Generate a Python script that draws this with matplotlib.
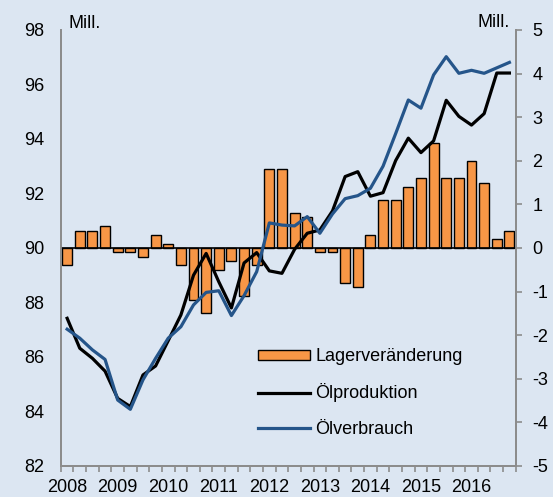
import numpy as np
import matplotlib
matplotlib.use("Agg")
import matplotlib.pyplot as plt

plt.rcParams['font.family'] = ['Liberation Sans', 'DejaVu Sans']
plt.rcParams['axes.unicode_minus'] = False

years = ['2008', '2009', '2010', '2011', '2012', '2013', '2014', '2015', '2016']

# quarterly stock change (right axis), 2008Q1 - 2016Q4
lager = [-0.4, 0.4, 0.4, 0.5, -0.1, -0.1, -0.2, 0.3,
         0.1, -0.4, -1.2, -1.5, -0.5, -0.3, -1.1, -0.4,
         1.8, 1.8, 0.8, 0.7, -0.1, -0.1, -0.8, -0.9,
         0.3, 1.1, 1.1, 1.4, 1.6, 2.4, 1.6, 1.6,
         2.0, 1.5, 0.2, 0.4]

# oil production (left axis)
produktion = [87.42, 86.32, 85.95, 85.48, 84.48, 84.18, 85.34, 85.67,
              86.60, 87.54, 89.00, 89.80, 88.76, 87.80, 89.45, 89.83,
              89.16, 89.07, 89.95, 90.54, 90.66, 91.36, 92.62, 92.80,
              91.90, 92.03, 93.21, 94.03, 93.50, 93.93, 95.42, 94.83,
              94.51, 94.93, 96.42, 96.42]

# oil consumption (left axis)
verbrauch = [87.02, 86.69, 86.26, 85.91, 84.42, 84.08, 85.16, 85.95,
             86.69, 87.11, 87.91, 88.37, 88.43, 87.52, 88.25, 89.13,
             90.92, 90.84, 90.81, 91.15, 90.54, 91.25, 91.81, 91.92,
             92.19, 93.00, 94.20, 95.43, 95.13, 96.35, 97.02, 96.41,
             96.52, 96.41, 96.61, 96.81]

bg = '#dce6f2'
grey = '#8c8c8c'
x = np.arange(len(lager))

fig = plt.figure(figsize=(5.53, 4.97), dpi=100, facecolor=bg)
ax2 = fig.add_axes([0.110, 0.0624, 0.8226, 0.8773])
ax = ax2.twinx()
# swap so the lines sit on top of the bars, left axis = lines
ax.yaxis.tick_left()
ax2.yaxis.tick_right()
ax.set_zorder(ax2.get_zorder() + 1)
ax.patch.set_visible(False)
ax2.patch.set_visible(False)

ax2.bar(x, lager, width=0.78, color='#f79646', edgecolor='black', lw=1.0,
        label='Lagerveränderung', zorder=2)
ax2.axhline(0, color='black', lw=1.2, zorder=3)
ax2.set_ylim(-5, 5)
ax2.set_yticks(range(-5, 6))

ax.plot(x, produktion, color='black', lw=2.3, label='Ölproduktion')
ax.plot(x, verbrauch, color='#25558a', lw=2.3, label='Ölverbrauch')
ax.set_ylim(82, 98)
ax.set_yticks(range(82, 99, 2))

ax.set_xlim(-0.5, 35.5)
ax2.set_xlim(-0.5, 35.5)
ax2.set_xticks(np.arange(0, 36, 4))
ax2.set_xticklabels(years)
ax2.set_xticks(np.arange(-0.5, 36, 1), minor=True)
ax2.tick_params(axis='x', which='major', length=0, pad=9.5, labelsize=13)
ax2.tick_params(axis='x', which='minor', length=4, color=grey, width=1.2, direction='out')

ax.tick_params(axis='y', length=0, pad=12, labelsize=13)
ax2.tick_params(axis='y', length=4, color=grey, width=1.2, pad=8, labelsize=13)

for a in (ax, ax2):
    a.spines['top'].set_visible(False)
    for s in ('left', 'right', 'bottom'):
        a.spines[s].set_color(grey)
        a.spines[s].set_linewidth(1.3)

fig.text(0.123, 0.952, 'Mill.', fontsize=13, ha='left', va='center')
fig.text(0.922, 0.955, 'Mill.', fontsize=13, ha='right', va='center')

h1, l1 = ax2.get_legend_handles_labels()
h2, l2 = ax.get_legend_handles_labels()
ax.legend(h1 + h2, l1 + l2, loc='upper left', bbox_to_anchor=(0.466, 0.299),
          bbox_transform=fig.transFigure, frameon=False, fontsize=13,
          handlelength=2.9, handletextpad=0.3, labelspacing=1.0,
          borderpad=0, borderaxespad=0, handleheight=0.55)

fig.savefig('out.png', dpi=100, facecolor=bg)
